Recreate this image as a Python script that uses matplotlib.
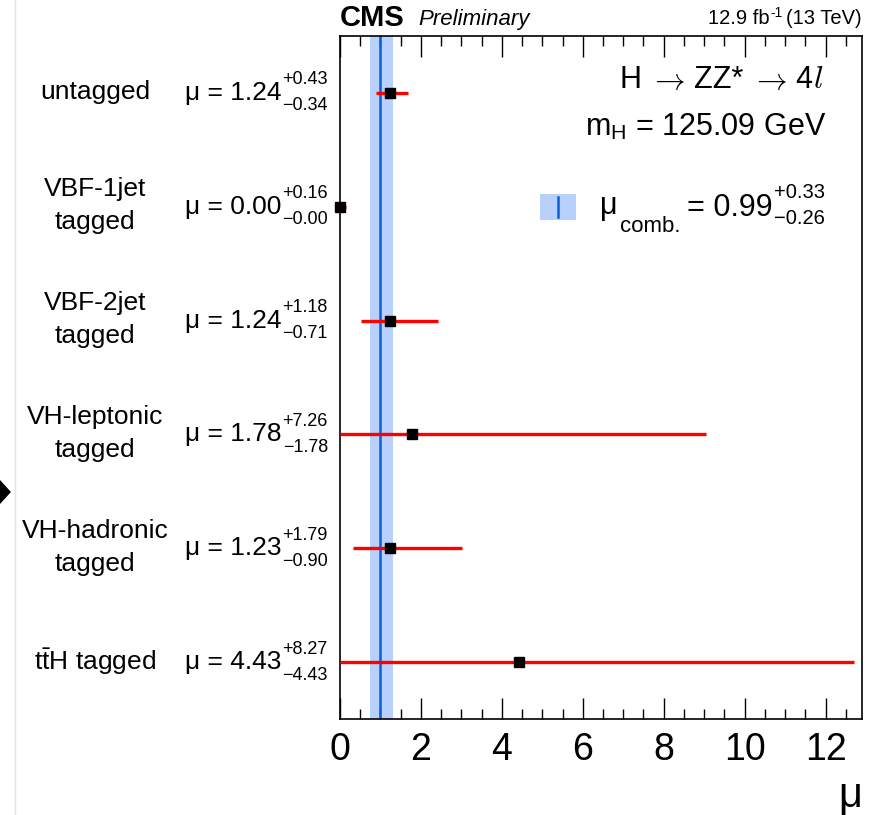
import numpy as np
import matplotlib
matplotlib.use('Agg')
import matplotlib.pyplot as plt
from matplotlib.patches import Polygon, Rectangle
from matplotlib.ticker import MultipleLocator

plt.rcParams['font.family'] = ['Liberation Sans', 'DejaVu Sans']
plt.rcParams['mathtext.fontset'] = 'custom'
plt.rcParams['mathtext.rm'] = 'Liberation Sans'
plt.rcParams['mathtext.it'] = 'Liberation Serif:italic'

# categories, top to bottom
categories = ['untagged', 'VBF-1jet\ntagged', 'VBF-2jet\ntagged',
              'VH-leptonic\ntagged', 'VH-hadronic\ntagged', 't$\\bar{\\rm t}$H tagged']
mu = [1.24, 0.00, 1.24, 1.78, 1.23, 4.43]
err_up = [0.43, 0.16, 1.18, 7.26, 1.79, 8.27]
err_dn = [0.34, 0.00, 0.71, 1.78, 0.90, 4.43]
mu_comb = 0.99
comb_up = 0.33
comb_dn = 0.26

W, H = 875, 815
fig = plt.figure(figsize=(W / 100, H / 100), dpi=100)
ax = fig.add_axes([340 / W, 1 - 719 / H, (862 - 340) / W, (719 - 36) / H])

n = len(categories)
ypos = np.arange(n, 0, -1)

# combined band + line
ax.axvspan(mu_comb - comb_dn, mu_comb + comb_up, color='#b8d0fc', lw=0, zorder=1)
ax.axvline(mu_comb, color='#0a5fd8', lw=1.8, zorder=2)

# per-category results
ax.errorbar(mu, ypos, xerr=[err_dn, err_up], fmt='s', color='black',
            ecolor='#ff0000', elinewidth=2.4, capsize=0, markersize=7,
            zorder=4, clip_on=False)

ax.set_xlim(0, 12.9)
ax.set_ylim(0.5, n + 0.5)
ax.set_yticks([])
ax.xaxis.set_major_locator(MultipleLocator(2))
ax.xaxis.set_minor_locator(MultipleLocator(0.5))
ax.tick_params(axis='x', which='major', direction='in', length=15, width=1,
               top=True, labelsize=27, pad=9)
ax.tick_params(axis='x', which='minor', direction='in', length=7, width=1, top=True)
for s in ax.spines.values():
    s.set_linewidth(1.2)

fig.canvas.draw()
renderer = fig.canvas.get_renderer()


def px(x, y):
    return x / W, 1 - y / H


def value_label(xl, yc, main, up, dn, size=19, ssize=13):
    t = fig.text(*px(xl, yc), main, fontsize=size, va='center', ha='left')
    bb = t.get_window_extent(renderer)
    tu = fig.text((bb.x1 + 1) / W, 1 - (yc - 13) / H, up, fontsize=ssize, va='center', ha='left')
    bu = tu.get_window_extent(renderer)
    fig.text(bu.x1 / W, 1 - (yc + 13) / H, dn, fontsize=ssize, va='center', ha='right')


# category names and values
for i, (c, m, u, d) in enumerate(zip(categories, mu, err_up, err_dn)):
    yc = H - ax.transData.transform((0, ypos[i]))[1]
    fig.text(*px(95, yc - 1), c, fontsize=19, ha='center', va='center',
             multialignment='center', linespacing=1.5)
    value_label(185, yc, '\u03bc = %.2f' % m, '+%.2f' % u, '\u2212%.2f' % d)

# legend for combined
lx0, lx1, ly0, ly1 = 540, 576, 194, 220
fig.patches.append(Rectangle(px(lx0, ly1), (lx1 - lx0) / W, (ly1 - ly0) / H,
                             transform=fig.transFigure, color='#b8d0fc', lw=0))
fig.lines.append(plt.Line2D([px(558, 0)[0]] * 2, [px(0, ly0 + 3)[1], px(0, ly1 - 3)[1]],
                            transform=fig.transFigure, color='#0a5fd8', lw=1.8))
fig.text(*px(600, 206), '\u03bc', fontsize=22, va='center', ha='left')
fig.text(*px(620, 226), 'comb.', fontsize=16, va='center', ha='left')
t2 = fig.text(*px(687, 208), '= %.2f' % mu_comb, fontsize=22, va='center', ha='left')
b2 = t2.get_window_extent(renderer)
tu = fig.text((b2.x1 + 1) / W, 1 - 193 / H, '+%.2f' % comb_up, fontsize=14.5, va='center', ha='left')
bu = tu.get_window_extent(renderer)
fig.text(bu.x1 / W, 1 - 219 / H, '\u2212%.2f' % comb_dn, fontsize=14.5, va='center', ha='right')

# physics labels: H -> ZZ* -> 4l
yl = 80
fig.text(*px(620, yl), 'H', fontsize=22, ha='left', va='center')
fig.text(*px(649, yl + 1), '$\\rightarrow$', fontsize=22, ha='left', va='center',
         math_fontfamily='cm')
fig.text(*px(694, yl), 'ZZ*', fontsize=22, ha='left', va='center')
fig.text(*px(751, yl + 1), '$\\rightarrow$', fontsize=22, ha='left', va='center',
         math_fontfamily='cm')
fig.text(*px(795, yl), '4', fontsize=22, ha='left', va='center')
fig.text(*px(813, yl), '$l$', fontsize=23, ha='left', va='center', math_fontfamily='cm')
fig.text(*px(826, 127), 'm$_{\\rm H}$ = 125.09 GeV', fontsize=22, ha='right', va='center')

# header
fig.text(*px(340, 18), 'CMS', fontsize=21, fontweight='bold', ha='left', va='center')
fig.text(*px(418, 19), 'Preliminary', fontsize=16, fontstyle='italic', ha='left', va='center')
th = fig.text(*px(862, 19), '(13 TeV)', fontsize=14.5, ha='right', va='center')
bh = th.get_window_extent(renderer)
ts = fig.text((bh.x0 - 4) / W, 1 - 13 / H, '-1', fontsize=10, ha='right', va='center')
bs = ts.get_window_extent(renderer)
fig.text((bs.x0 - 1) / W, 1 - 19 / H, '12.9 fb', fontsize=14.5, ha='right', va='center')

# axis label
fig.text(*px(850, 796), '\u03bc', fontsize=30, ha='center', va='center')

# screenshot edge artefacts
fig.lines.append(plt.Line2D([15 / W, 15 / W], [0, 1], transform=fig.transFigure,
                            color='#e4e4e4', lw=1))
fig.patches.append(Polygon([px(-10, 470), px(10, 492), px(-10, 514)], closed=True,
                           transform=fig.transFigure, color='black'))

fig.savefig('out.png', dpi=100)
